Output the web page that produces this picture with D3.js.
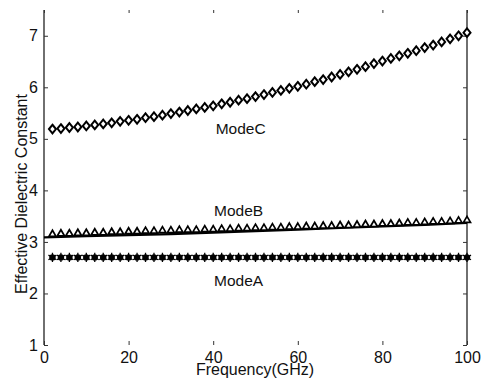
<!DOCTYPE html>
<html>
<head>
<meta charset="utf-8">
<script src="https://cdn.jsdelivr.net/npm/d3@7"></script>
<style>
  body { margin: 0; background: #fff; }
  text { font-family: "Liberation Sans", Arial, sans-serif; fill: #111; }
</style>
</head>
<body>
<div id="chart"></div>
<script>
// frequencies of the marker points (GHz)
var freq = [2, 4, 6, 8, 10, 12, 14, 16, 18, 20, 22, 24, 26, 28, 30, 32, 34, 36, 38, 40,
            42, 44, 46, 48, 50, 52, 54, 56, 58, 60, 62, 64, 66, 68, 70, 72, 74, 76, 78, 80,
            82, 84, 86, 88, 90, 92, 94, 96, 98, 100];

var modeC = [5.19, 5.20, 5.22, 5.23, 5.25, 5.27, 5.29, 5.31, 5.34, 5.36,
             5.38, 5.41, 5.43, 5.46, 5.49, 5.52, 5.55, 5.58, 5.61, 5.64,
             5.68, 5.71, 5.75, 5.78, 5.82, 5.86, 5.90, 5.94, 5.98, 6.02,
             6.06, 6.11, 6.15, 6.20, 6.25, 6.30, 6.35, 6.40, 6.46, 6.51,
             6.56, 6.61, 6.66, 6.71, 6.77, 6.82, 6.88, 6.94, 7.00, 7.06];

var modeB = [3.16, 3.17, 3.17, 3.18, 3.18, 3.19, 3.19, 3.20, 3.20, 3.21,
             3.21, 3.22, 3.22, 3.23, 3.23, 3.24, 3.24, 3.24, 3.25, 3.25,
             3.26, 3.26, 3.27, 3.27, 3.28, 3.28, 3.29, 3.29, 3.30, 3.30,
             3.31, 3.31, 3.32, 3.32, 3.33, 3.33, 3.34, 3.35, 3.35, 3.36,
             3.36, 3.37, 3.38, 3.38, 3.39, 3.40, 3.40, 3.41, 3.42, 3.43];

var modeA = [2.70, 2.70, 2.70, 2.70, 2.70, 2.70, 2.70, 2.70, 2.70, 2.70,
             2.70, 2.70, 2.70, 2.70, 2.70, 2.70, 2.70, 2.70, 2.70, 2.70,
             2.70, 2.70, 2.70, 2.70, 2.70, 2.70, 2.70, 2.70, 2.70, 2.70,
             2.70, 2.70, 2.70, 2.70, 2.70, 2.70, 2.70, 2.70, 2.70, 2.70,
             2.70, 2.70, 2.70, 2.70, 2.70, 2.70, 2.70, 2.70, 2.70, 2.70];

// solid curve drawn under the ModeB markers
var lineFreq = [0, 10, 20, 30, 40, 50, 60, 70, 80, 90, 100];
var lineB = [3.09, 3.11, 3.13, 3.15, 3.18, 3.21, 3.24, 3.27, 3.30, 3.33, 3.37];

var xTicks = [0, 20, 40, 60, 80, 100];
var yTicks = [1, 2, 3, 4, 5, 6, 7];

var modeLabels = [
  { name: "ModeC", f: 46.5, v: 5.1 },
  { name: "ModeB", f: 46, v: 3.5 },
  { name: "ModeA", f: 46, v: 2.15 }
];

var W = 486, H = 385;
var x0 = 44, x1 = 467, yTop = 10, yBot = 345;

var xscale = d3.scaleLinear().domain([0, 100]).range([x0, x1]);
var yscale = d3.scaleLinear().domain([1, 7.5]).range([yBot, yTop]);

var svg = d3.select("#chart").append("svg")
    .attr("width", W)
    .attr("height", H);

// axes: left and right frames only, ticks inward
svg.append("g")
    .attr("transform", "translate(" + x0 + ",0)")
    .call(d3.axisLeft(yscale).tickValues(yTicks).tickFormat(d3.format("d")).tickSize(-4).tickPadding(6))
    .call(function (g) {
      g.select(".domain").attr("stroke", "#333").attr("stroke-width", 1.4)
        .attr("d", "M0," + yTop + "V" + yBot);
      g.selectAll("text").style("font-size", "16px").attr("fill", "#111");
    });

svg.append("g")
    .attr("transform", "translate(" + x1 + ",0)")
    .call(d3.axisRight(yscale).tickValues(yTicks).tickSize(-4).tickFormat(""))
    .call(function (g) {
      g.select(".domain").attr("stroke", "#333").attr("stroke-width", 1.4)
        .attr("d", "M0," + yTop + "V" + yBot);
    });

svg.append("g")
    .attr("transform", "translate(0," + yBot + ")")
    .call(d3.axisBottom(xscale).tickValues(xTicks).tickSize(-4).tickPadding(7))
    .call(function (g) {
      g.select(".domain").remove();
      g.selectAll("text").style("font-size", "16px").attr("fill", "#111");
    });

svg.append("g")
    .attr("transform", "translate(0," + yTop + ")")
    .call(d3.axisTop(xscale).tickValues(xTicks).tickSize(-3).tickFormat(""))
    .call(function (g) { g.select(".domain").remove(); });

svg.selectAll(".tick line").attr("stroke", "#333");

// axis titles
svg.append("text")
    .attr("x", 255)
    .attr("y", 375)
    .attr("text-anchor", "middle")
    .style("font-size", "16px")
    .text("Frequency(GHz)");

svg.append("text")
    .attr("text-anchor", "middle")
    .attr("transform", "translate(27," + 194 + ")rotate(-90)")
    .style("font-size", "16px")
    .text("Effective Dielectric Constant");

// ModeB solid curve
var line = d3.line()
    .x(function (d, i) { return xscale(lineFreq[i]); })
    .y(function (d) { return yscale(d); });

svg.append("path")
    .datum(lineB)
    .attr("fill", "none")
    .attr("stroke", "#000")
    .attr("stroke-width", 2.2)
    .attr("d", line);

// ModeC: open diamonds
svg.selectAll(".diamond")
    .data(modeC)
    .enter().append("path")
    .attr("class", "diamond")
    .attr("d", "M0,-4.3L3.5,0L0,4.3L-3.5,0Z")
    .attr("transform", function (d, i) { return "translate(" + xscale(freq[i]) + "," + yscale(d) + ")"; })
    .attr("fill", "#fff")
    .attr("stroke", "#000")
    .attr("stroke-width", 2);

// ModeB: open triangles
svg.selectAll(".tri")
    .data(modeB)
    .enter().append("path")
    .attr("class", "tri")
    .attr("d", "M0,-3.4L3.5,2.6L-3.5,2.6Z")
    .attr("transform", function (d, i) { return "translate(" + xscale(freq[i]) + "," + yscale(d) + ")"; })
    .attr("fill", "#fff")
    .attr("stroke", "#000")
    .attr("stroke-width", 1.7);

// ModeA: filled star-like dots
svg.selectAll(".dotA")
    .data(modeA)
    .enter().append("circle")
    .attr("class", "dotA")
    .attr("cx", function (d, i) { return xscale(freq[i]); })
    .attr("cy", function (d) { return yscale(d); })
    .attr("r", 3.2)
    .attr("fill", "#000");

svg.selectAll(".astA")
    .data(modeA)
    .enter().append("path")
    .attr("class", "astA")
    .attr("d", d3.symbol().type(d3.symbolAsterisk).size(60))
    .attr("transform", function (d, i) { return "translate(" + xscale(freq[i]) + "," + yscale(d) + ")"; })
    .attr("fill", "none")
    .attr("stroke", "#000")
    .attr("stroke-width", 1.3);

// mode labels
svg.selectAll(".mlabel")
    .data(modeLabels)
    .enter().append("text")
    .attr("class", "mlabel")
    .attr("x", function (d) { return xscale(d.f); })
    .attr("y", function (d) { return yscale(d.v); })
    .attr("text-anchor", "middle")
    .style("font-size", "15.5px")
    .text(function (d) { return d.name; });
</script>
</body>
</html>
